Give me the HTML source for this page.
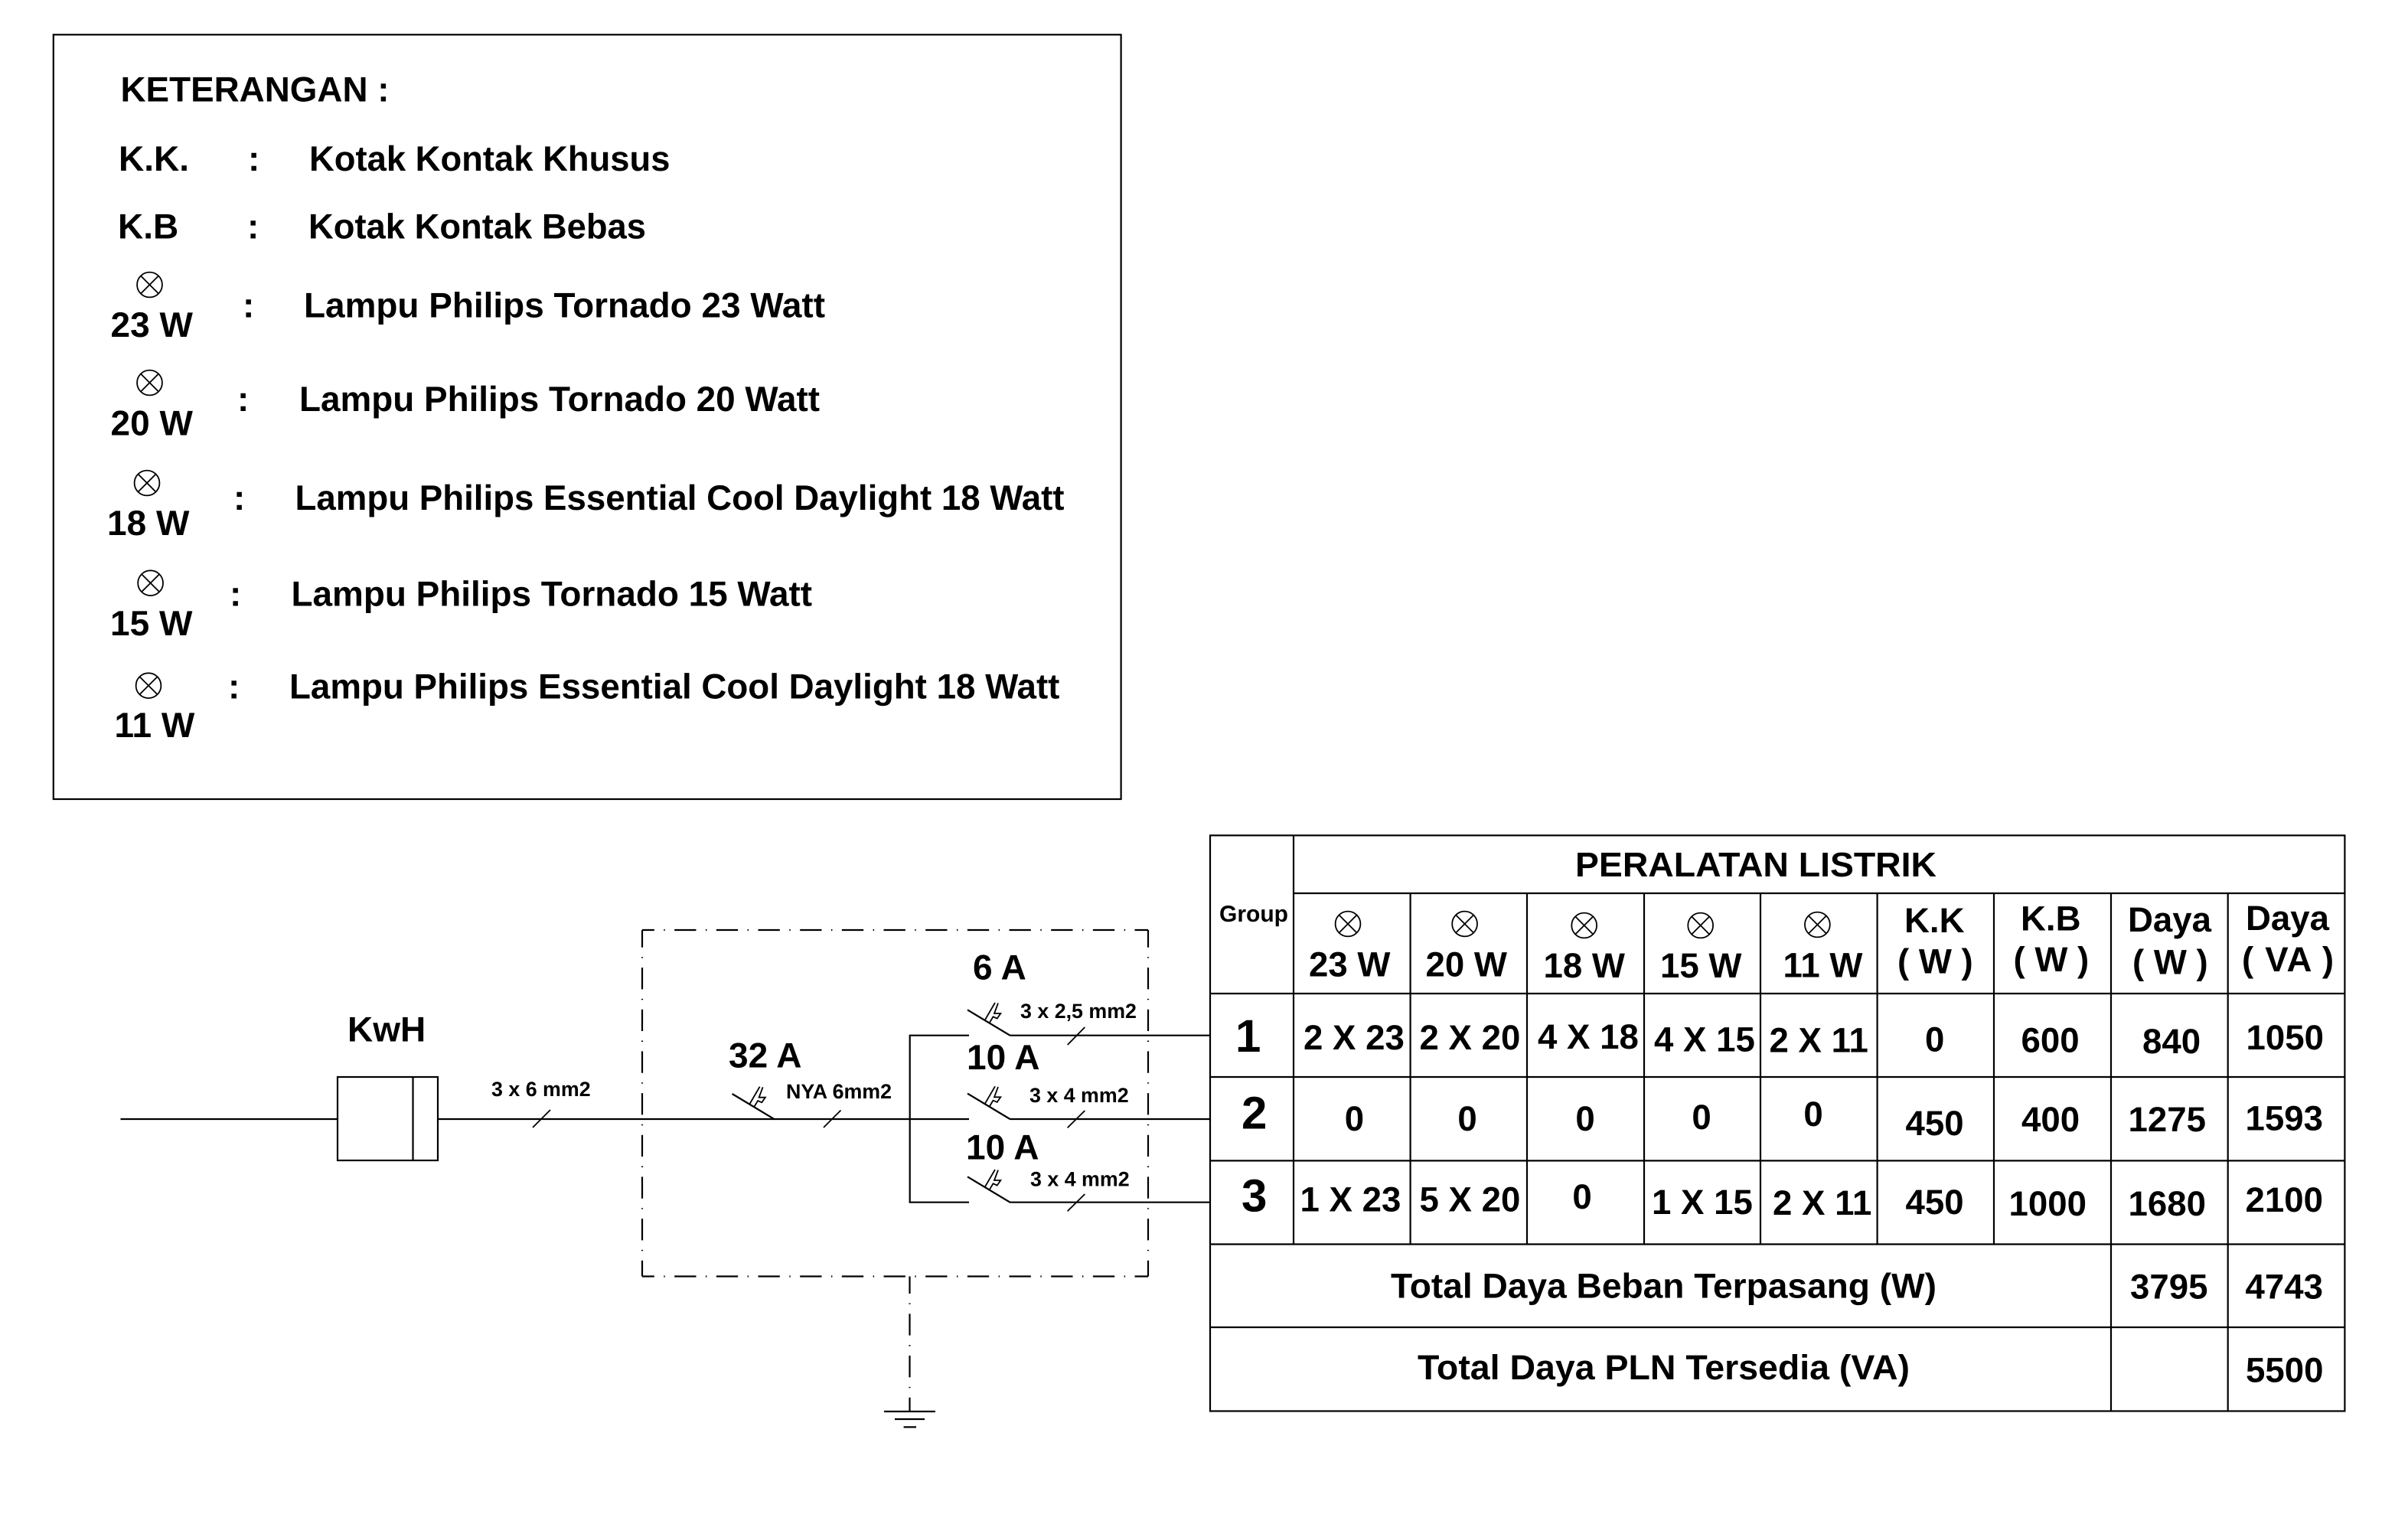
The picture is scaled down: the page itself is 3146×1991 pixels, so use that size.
<!DOCTYPE html>
<html><head><meta charset="utf-8"><style>
html,body{margin:0;padding:0;background:#fff;width:3146px;height:1991px;overflow:hidden}
svg{display:block}
text{font-family:"Liberation Sans",sans-serif;font-weight:700;fill:#000;text-rendering:geometricPrecision}
.a{font-size:46px}.t{font-size:45.6px}.s{font-size:26.8px}.m{text-anchor:middle}
.l{stroke:#000;stroke-width:2.2;fill:none}
.th{stroke:#000;stroke-width:1.8;fill:none}
.d{stroke:#000;stroke-width:2.2;fill:none;stroke-dasharray:28.3 12.5 1.4 12.47}
</style></head><body>
<svg width="3146" height="1991" viewBox="0 0 3146 1991" xmlns="http://www.w3.org/2000/svg">
<defs>
<g id="lamp" class="th"><circle r="16.4"/><path d="M-11.6-11.6L11.6 11.6M-11.6 11.6L11.6-11.6"/></g>
<g id="brk" class="th"><path class="l" d="M0 0L55.5 33.4"/><path d="M23 13L36-9.3M29 16.5L33.5 9L38.7 11.3L43.3 4.7L35 4.7L40-8.7"/></g>
</defs>

<!-- Legend -->
<rect x="69.8" y="45.3" width="1394.8" height="998.7" class="l"/>
<text class="a" x="157.5" y="132.5" textLength="351" lengthAdjust="spacingAndGlyphs">KETERANGAN :</text>
<text class="a" x="155" y="223">K.K.</text><text class="a" x="324" y="223">:</text>
<text class="a" x="404" y="223" textLength="471.5" lengthAdjust="spacingAndGlyphs">Kotak Kontak Khusus</text>
<text class="a" x="154" y="311.5">K.B</text><text class="a" x="323" y="311.5">:</text>
<text class="a" x="403" y="311.5" textLength="441" lengthAdjust="spacingAndGlyphs">Kotak Kontak Bebas</text>
<use href="#lamp" x="195.5" y="372"/><text class="a" x="144.5" y="440">23 W</text><text class="a" x="317" y="414.6">:</text>
<text class="a" x="397" y="414.6" textLength="681" lengthAdjust="spacingAndGlyphs">Lampu Philips Tornado 23 Watt</text>
<use href="#lamp" x="195.5" y="500"/><text class="a" x="144.5" y="568.6">20 W</text><text class="a" x="310" y="537">:</text>
<text class="a" x="391" y="537" textLength="680" lengthAdjust="spacingAndGlyphs">Lampu Philips Tornado 20 Watt</text>
<use href="#lamp" x="192" y="631"/><text class="a" x="140" y="699">18 W</text><text class="a" x="305" y="666">:</text>
<text class="a" x="385.5" y="666" textLength="1005" lengthAdjust="spacingAndGlyphs">Lampu Philips Essential Cool Daylight 18 Watt</text>
<use href="#lamp" x="196.6" y="761.7"/><text class="a" x="144" y="830">15 W</text><text class="a" x="300" y="791.7">:</text>
<text class="a" x="380.5" y="791.7" textLength="680.6" lengthAdjust="spacingAndGlyphs">Lampu Philips Tornado 15 Watt</text>
<use href="#lamp" x="194" y="895.7"/><text class="a" x="149.5" y="963">11 W</text><text class="a" x="298" y="912.7">:</text>
<text class="a" x="378" y="912.7" textLength="1006.4" lengthAdjust="spacingAndGlyphs">Lampu Philips Essential Cool Daylight 18 Watt</text>

<!-- Single line diagram -->
<path class="l" d="M157.5 1462H441M572 1462H1012"/>
<rect x="441" y="1407" width="131" height="109" class="l"/>
<path class="l" d="M539.5 1407V1516"/>
<path class="th" d="M696 1473L719 1450"/>
<text x="454" y="1360.5" style="font-size:46px">KwH</text>
<text class="s" x="642" y="1432">3 x 6 mm2</text>

<path class="d" d="M839 1215H1500" stroke-dashoffset="12.5"/>
<path class="d" d="M839 1667.5H1500" stroke-dashoffset="12.5"/>
<path class="d" d="M839 1215V1667.5" stroke-dashoffset="5.6"/>
<path class="d" d="M1500 1215V1667.5" stroke-dashoffset="5.6"/>
<path class="d" d="M1188.5 1667.5V1844" stroke-dashoffset="5.8"/>
<path class="l" d="M1155 1844H1222M1169 1854H1208M1180.6 1864.4H1197"/>

<use href="#brk" x="956.6" y="1429"/>
<path class="th" d="M1076 1473L1098.5 1450.5"/>
<text x="952" y="1394.5" style="font-size:46px">32 A</text>
<text class="s" x="1027" y="1435">NYA 6mm2</text>

<path class="l" d="M1266 1352.7H1188.7V1570.7H1266M1012 1462H1266"/>
<path class="l" d="M1319.3 1352.7H1581.7M1319.3 1462H1581.7M1319.3 1570.7H1581.7"/>
<use href="#brk" x="1264" y="1319.3"/>
<use href="#brk" x="1264" y="1428.6"/>
<use href="#brk" x="1264" y="1537.3"/>
<path class="th" d="M1394.7 1365L1417.3 1342M1394.7 1473.3L1417.3 1451M1394.7 1582.3L1417.3 1560"/>
<text x="1271" y="1279.5" style="font-size:46px">6 A</text>
<text x="1263" y="1397" style="font-size:46px">10 A</text>
<text x="1262" y="1514.7" style="font-size:46px">10 A</text>
<text class="s" x="1333" y="1330">3 x 2,5 mm2</text>
<text class="s" x="1345" y="1440">3 x 4 mm2</text>
<text class="s" x="1346" y="1549.3">3 x 4 mm2</text>

<!-- Table -->
<rect x="1581" y="1091.4" width="1482.4" height="752.1" class="l"/>
<path class="l" d="M1690 1091.4V1625.5M1690 1167H3063.4M1581 1298H3063.4M1581 1407H3063.4M1581 1516.4H3063.4M1581 1625.5H3063.4M1581 1734H3063.4"/>
<path class="l" d="M1842.6 1167V1625.5M1995 1167V1625.5M2148 1167V1625.5M2300 1167V1625.5M2452.6 1167V1625.5M2605 1167V1625.5M2758 1167V1843.5M2910.7 1167V1843.5"/>

<text x="2058" y="1145" style="font-size:45px" textLength="472" lengthAdjust="spacingAndGlyphs">PERALATAN LISTRIK</text>
<text x="1593" y="1204" style="font-size:30px">Group</text>

<use href="#lamp" x="1761" y="1207"/><use href="#lamp" x="1913.6" y="1207"/><use href="#lamp" x="2069.7" y="1209"/><use href="#lamp" x="2221.7" y="1209"/><use href="#lamp" x="2374.4" y="1208"/>
<text class="t" x="1710" y="1275.4">23 W</text>
<text class="t" x="1862.5" y="1275.4">20 W</text>
<text class="t" x="2016.5" y="1277">18 W</text>
<text class="t" x="2169" y="1277">15 W</text>
<text class="t" x="2329.5" y="1276.6">11 W</text>
<text class="t" x="2488" y="1218">K.K</text><text class="t" x="2479" y="1271.5">( W )</text>
<text class="t" x="2640" y="1215.4">K.B</text><text class="t" x="2630.5" y="1269">( W )</text>
<text class="t" x="2780" y="1217">Daya</text><text class="t" x="2786" y="1272.5">( W )</text>
<text class="t" x="2934" y="1215">Daya</text><text class="t" x="2929" y="1269" textLength="120" lengthAdjust="spacing">( VA )</text>

<text x="1614" y="1374" style="font-size:60px">1</text>
<text x="1622" y="1474.6" style="font-size:60px">2</text>
<text x="1622" y="1582.5" style="font-size:60px">3</text>

<text class="t" x="1703" y="1371">2 X 23</text>
<text class="t" x="1854.5" y="1371">2 X 20</text>
<text class="t" x="2009" y="1370">4 X 18</text>
<text class="t" x="2161" y="1373.6">4 X 15</text>
<text class="t" x="2311.5" y="1374.6">2 X 11</text>
<text class="t m" x="2527.7" y="1373.6">0</text>
<text class="t" x="2640.5" y="1374.6">600</text>
<text class="t" x="2799" y="1376">840</text>
<text class="t" x="2934.5" y="1371">1050</text>

<text class="t m" x="1769.4" y="1477">0</text>
<text class="t m" x="1917" y="1477">0</text>
<text class="t m" x="2071" y="1477">0</text>
<text class="t m" x="2223" y="1475">0</text>
<text class="t m" x="2369" y="1471">0</text>
<text class="t" x="2489.5" y="1483">450</text>
<text class="t" x="2641" y="1478">400</text>
<text class="t" x="2780.5" y="1478">1275</text>
<text class="t" x="2933.5" y="1476.6">1593</text>

<text class="t" x="1698.5" y="1582.5">1 X 23</text>
<text class="t" x="1854.5" y="1582.5">5 X 20</text>
<text class="t m" x="2067" y="1579">0</text>
<text class="t" x="2158" y="1586">1 X 15</text>
<text class="t" x="2316" y="1587">2 X 11</text>
<text class="t" x="2489.5" y="1586">450</text>
<text class="t" x="2624.5" y="1588">1000</text>
<text class="t" x="2780.5" y="1588">1680</text>
<text class="t" x="2933.5" y="1583">2100</text>

<text class="t" x="1817" y="1695.7" textLength="713" lengthAdjust="spacingAndGlyphs">Total Daya Beban Terpasang (W)</text>
<text class="t" x="2783" y="1696.5">3795</text>
<text class="t" x="2933.5" y="1696.5">4743</text>
<text class="t" x="1852" y="1802" textLength="643" lengthAdjust="spacingAndGlyphs">Total Daya PLN Tersedia (VA)</text>
<text class="t" x="2934" y="1805.7">5500</text>
</svg>
</body></html>
